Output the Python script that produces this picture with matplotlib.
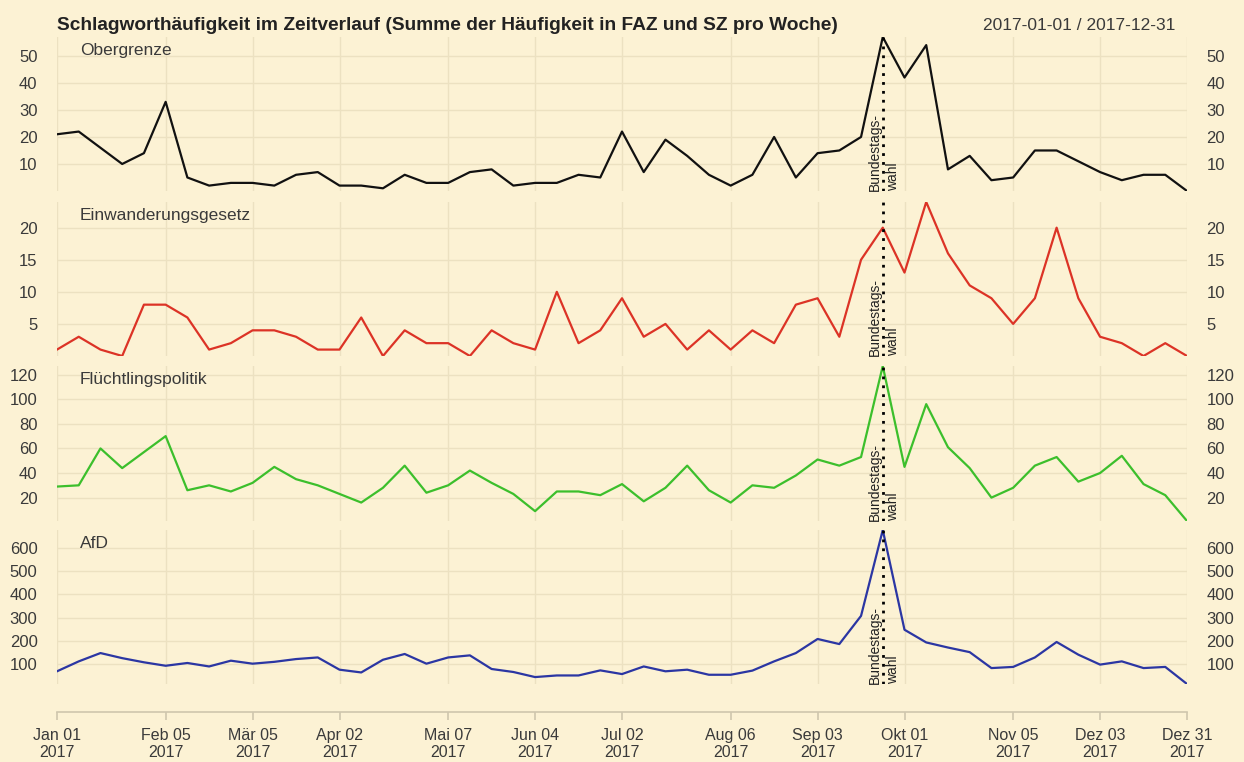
import pandas as pd
import matplotlib
matplotlib.use('Agg')
import matplotlib.pyplot as plt
import matplotlib.dates as mdates

plt.rcParams['font.family'] = ['Liberation Sans', 'DejaVu Sans']

# ------------------------------------------
# Daten (Summe pro Woche, FAZ + SZ)
# ------------------------------------------
weeks = pd.date_range('2017-01-01', '2017-12-31', freq='7D')

obergrenze = [21, 22, 16, 10, 14, 33, 5, 2, 3, 3, 2, 6, 7, 2, 2, 1, 6, 3, 3, 7,
              8, 2, 3, 3, 6, 5, 22, 7, 19, 13, 6, 2, 6, 20, 5, 14, 15, 20, 57, 42,
              54, 8, 13, 4, 5, 15, 15, 11, 7, 4, 6, 6, 0]
einwanderungsgesetz = [1, 3, 1, 0, 8, 8, 6, 1, 2, 4, 4, 3, 1, 1, 6, 0, 4, 2, 2, 0,
                       4, 2, 1, 10, 2, 4, 9, 3, 5, 1, 4, 1, 4, 2, 8, 9, 3, 15, 20, 13,
                       24, 16, 11, 9, 5, 9, 20, 9, 3, 2, 0, 2, 0]
fluechtlingspolitik = [29, 30, 60, 44, 57, 70, 26, 30, 25, 32, 45, 35, 30, 23, 16, 28, 46, 24, 30, 42,
                       32, 23, 9, 25, 25, 22, 31, 17, 28, 46, 26, 16, 30, 28, 38, 51, 46, 53, 127, 45,
                       96, 61, 44, 20, 28, 46, 53, 33, 40, 54, 31, 22, 1]
afd = [67, 110, 146, 124, 106, 91, 103, 88, 113, 100, 108, 120, 127, 74, 62, 117, 142, 100, 127, 136,
       77, 64, 42, 49, 49, 71, 55, 88, 67, 74, 52, 52, 70, 110, 146, 207, 185, 307, 679, 247,
       192, 170, 150, 81, 86, 127, 194, 139, 96, 110, 81, 86, 12]

series_names = ['Obergrenze', 'Einwanderungsgesetz', 'Flüchtlingspolitik', 'AfD']
series_values = [obergrenze, einwanderungsgesetz, fluechtlingspolitik, afd]
series_colors = ['#111111', '#dc3326', '#3cbf2c', '#2b36a3']
y_ticks = [[10, 20, 30, 40, 50], [5, 10, 15, 20], [20, 40, 60, 80, 100, 120],
           [100, 200, 300, 400, 500, 600]]

tick_dates = ['2017-01-01', '2017-02-05', '2017-03-05', '2017-04-02', '2017-05-07',
              '2017-06-04', '2017-07-02', '2017-08-06', '2017-09-03', '2017-10-01',
              '2017-11-05', '2017-12-03', '2017-12-31']
tick_labels = ['Jan 01\n2017', 'Feb 05\n2017', 'Mär 05\n2017', 'Apr 02\n2017', 'Mai 07\n2017',
               'Jun 04\n2017', 'Jul 02\n2017', 'Aug 06\n2017', 'Sep 03\n2017', 'Okt 01\n2017',
               'Nov 05\n2017', 'Dez 03\n2017', 'Dez 31\n2017']
wahl_datum = '2017-09-24'

# ------------------------------------------
# Layout
# ------------------------------------------
BG = '#fcf2d4'
GRID = '#ece1c1'
TXT = '#3a3a3a'

fig = plt.figure(figsize=(12.44, 7.62), dpi=100, facecolor=BG)
W, H = 1244, 762
left, right = 57, 1187
panels_px = [(37, 191), (202, 356), (366, 521), (530, 684)]

tick_x = mdates.date2num(pd.to_datetime(tick_dates))
wahl_x = mdates.date2num(pd.Timestamp(wahl_datum))

axes = []
for i, (top, bottom) in enumerate(panels_px):
    ax = fig.add_axes([left / W, 1 - bottom / H, (right - left) / W, (bottom - top) / H])
    ax.set_facecolor(BG)
    vals = series_values[i]
    ax.plot(weeks, vals, color=series_colors[i], linewidth=1.6, zorder=3)
    ax.set_xlim(weeks[0], weeks[-1])
    ax.set_ylim(min(vals), max(vals))
    ax.set_yticks(y_ticks[i])
    ax.tick_params(axis='y', length=0, labelsize=12, labelcolor=TXT, pad=14,
                   left=True, right=True, labelleft=True, labelright=True)
    ax.set_xticks(tick_x)
    ax.grid(True, color=GRID, linewidth=1, zorder=0)
    for s in ax.spines.values():
        s.set_visible(False)

    # Wahltag
    ax.axvline(wahl_x, color='black', linestyle=(0, (1, 2.2)), linewidth=2, zorder=4)
    ax.text(wahl_x + 0.3, 0.0, 'Bundestags-\nwahl', transform=ax.get_xaxis_transform(),
            rotation=90, ha='center', va='bottom', multialignment='left',
            fontsize=10, color='#222222', linespacing=1.35, zorder=5)

    ax.text(23 / (right - left), 1 - 6 / (bottom - top), series_names[i],
            transform=ax.transAxes, ha='left', va='top', fontsize=12.5, color=TXT)

    if i < 3:
        ax.tick_params(axis='x', length=0, labelbottom=False)
    axes.append(ax)

# x-Achse nur unten
ax = axes[-1]
ax.spines['bottom'].set_visible(True)
ax.spines['bottom'].set_position(('outward', 20))
ax.spines['bottom'].set_color('#cfc6ad')
ax.spines['bottom'].set_linewidth(1.2)
ax.set_xticklabels(tick_labels, linespacing=1.15)
ax.tick_params(axis='x', length=6, width=1.2, color='#cfc6ad', labelsize=11.5,
               labelcolor=TXT, pad=6)

fig.text(left / W, 1 - 25 / H, 'Schlagworthäufigkeit im Zeitverlauf (Summe der Häufigkeit in FAZ und SZ pro Woche)',
         ha='left', va='center', fontsize=13.8, fontweight='bold', color='#222222')
fig.text(1175 / W, 1 - 25 / H, '2017-01-01 / 2017-12-31',
         ha='right', va='center', fontsize=12.5, color=TXT)

fig.savefig('out.png', dpi=100, facecolor=BG)
